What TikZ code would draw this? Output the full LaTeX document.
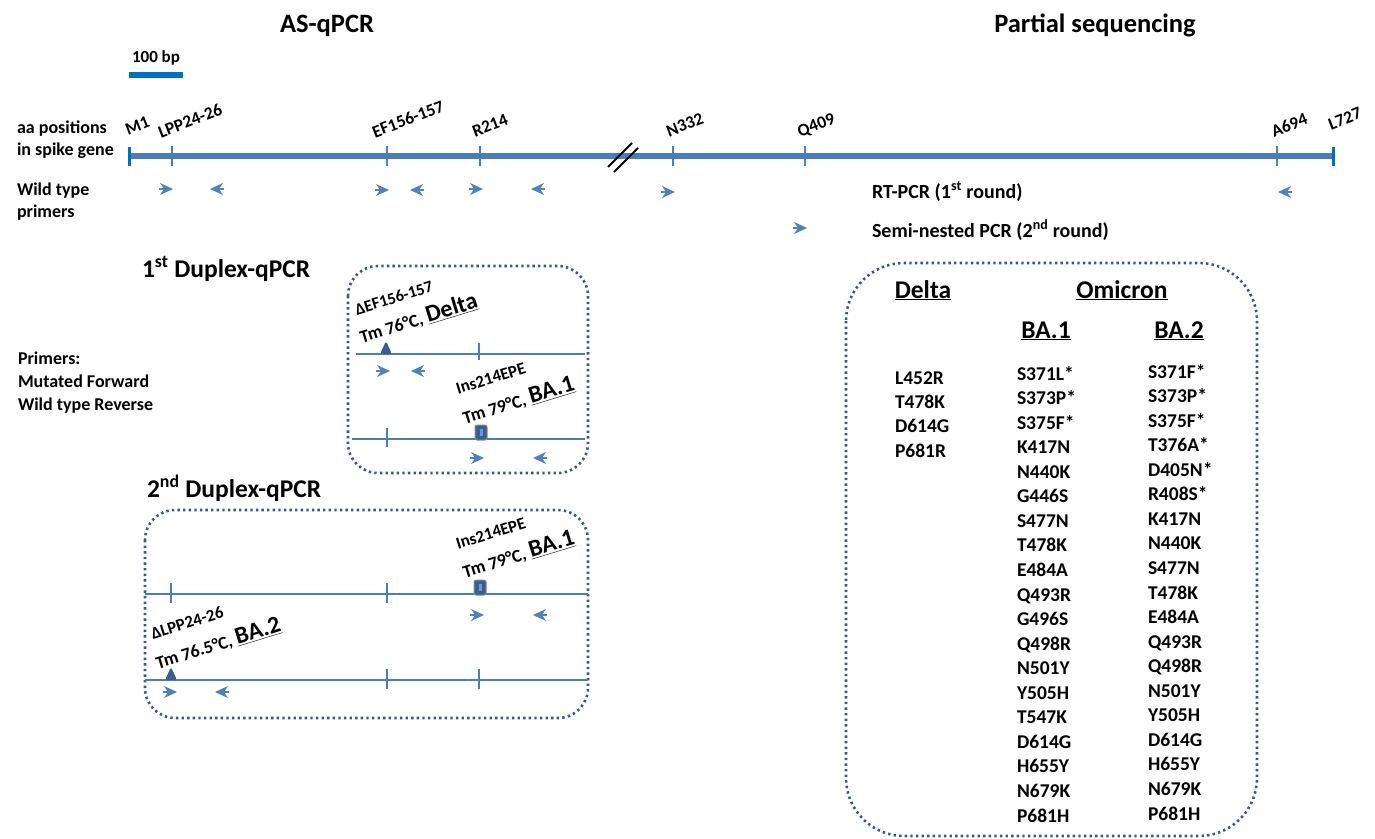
\documentclass[tikz,border=0pt]{standalone}
\usepackage{fontspec}
\setmainfont{Carlito}
\usetikzlibrary{calc}

\definecolor{geneBlue}{RGB}{74,126,187}
\definecolor{barBlue}{RGB}{0,112,192}
\definecolor{primerBlue}{RGB}{79,129,189}
\definecolor{markBlue}{RGB}{59,94,140}
\definecolor{dotBlue}{RGB}{52,88,148}

\tikzset{
	sideText/.style={font=\fontsize{18}{22}\selectfont\bfseries, anchor=base west},
	pcrText/.style={font=\fontsize{20}{24}\selectfont\bfseries, anchor=base west},
	titleText/.style={font=\fontsize{26.5}{30}\selectfont\bfseries, anchor=base},
	headText/.style={font=\fontsize{25.5}{29}\selectfont\bfseries, anchor=base west},
	listText/.style={font=\fontsize{19.5}{24}\selectfont\bfseries, anchor=base west},
	tickText/.style={font=\fontsize{17.5}{20}\selectfont\bfseries, anchor=base west, rotate=21},
	mutText/.style={font=\fontsize{18}{21}\selectfont\bfseries, anchor=base west, rotate=17},
	dotBox/.style={draw=dotBlue, line width=2.6pt, dash pattern=on 2.4pt off 3.2pt, rounded corners=30pt},
	thinGene/.style={draw=geneBlue, line width=2pt}
}

\begin{document}
\begin{tikzpicture}[x=1pt, y=-1pt, every node/.style={inner sep=0pt, outer sep=0pt}]
\useasboundingbox (0,0) rectangle (1375,838);

\newcommand\fwdPrimer[2]{
	\draw[primerBlue, line width=1.6pt] (#1-7,#2) -- (#1,#2);
	\fill[primerBlue] (#1+7,#2) -- (#1-6,#2-6) -- (#1-2,#2) -- (#1-6,#2+6) -- cycle;}
\newcommand\revPrimer[2]{
	\draw[primerBlue, line width=1.6pt] (#1+7,#2) -- (#1,#2);
	\fill[primerBlue] (#1-7,#2) -- (#1+6,#2-6) -- (#1+2,#2) -- (#1+6,#2+6) -- cycle;}
\newcommand\delMark[2]{\fill[markBlue, rounded corners=2.5pt] (#1-6,#2) -- (#1,#2-13) -- (#1+6,#2) -- cycle;}
\newcommand\insMark[2]{
	\filldraw[fill=markBlue, draw=markBlue!70, line width=1pt, rounded corners=2pt] (#1-6,#2-14) rectangle (#1+6,#2+1);
	\fill[geneBlue!80] (#1-1.5,#2-10) rectangle (#1+1.5,#2-3);}

% titles and scale
\node[titleText] (asTitle) at (327,32) {AS-qPCR};
\node[titleText] (seqTitle) at (1095,32) {Partial sequencing};
\node[font=\fontsize{17}{20}\selectfont\bfseries, anchor=base] (scaleText) at (156,62) {100 bp};
\fill[barBlue] (129,72) rectangle (183,78);

% spike gene
\node[sideText] (aaPos) at (17,133) {aa positions};
\node[sideText] (aaPos2) at (17,155) {in spike gene};
\draw[geneBlue, line width=5.5pt] (128,156) -- (1335,156);
\draw[barBlue, line width=3pt] (129.5,147) -- (129.5,166);
\draw[barBlue, line width=3pt] (1333.5,147) -- (1333.5,166);
\foreach \x in {172,387,480,673,805,1277}
	\draw[geneBlue, line width=1.8pt] (\x,146) -- (\x,166);
\draw[black, line width=2pt] (608,167) -- (632,143);
\draw[black, line width=2pt] (614,172) -- (638,148);

\node[tickText] (posM1) at (128,135) {M1};
\node[tickText] (posLPP) at (161,138) {LPP24-26};
\node[tickText] (posEF) at (375,138) {EF156-157};
\node[tickText] (posR) at (475,137) {R214};
\node[tickText] (posN) at (669,137) {N332};
\node[tickText] (posQ) at (800,137) {Q409};
\node[tickText] (posA) at (1274,137) {A694};
\node[tickText] (posL) at (1331,130) {L727};

% wild type primers
\node[sideText] (wtText) at (17,195) {Wild type};
\node[sideText] (wtText2) at (17,217) {primers};
\fwdPrimer{166}{189}
\revPrimer{217}{189}
\fwdPrimer{382}{190}
\revPrimer{417}{190}
\fwdPrimer{476}{189}
\revPrimer{538}{189}
\fwdPrimer{668}{192}
\revPrimer{1285}{192}
\node[pcrText] (rtText) at (872,198) {RT-PCR (1\textsuperscript{st} round)};
\fwdPrimer{800}{228}
\node[pcrText] (snText) at (872,237) {Semi-nested PCR (2\textsuperscript{nd} round)};

% primers legend
\node[sideText] (legA) at (18,364) {Primers:};
\node[sideText] (legB) at (18,387) {Mutated Forward};
\node[sideText] (legC) at (18,410) {Wild type Reverse};

% 1st duplex
\node[headText] (dupOne) at (142,277) {1\textsuperscript{st} Duplex-qPCR};
\draw[dotBox] (348,266) rectangle (588,473);
\draw[thinGene] (356,354) -- (585,354);
\draw[thinGene] (479,343) -- (479,360);
\delMark{386}{354}
\node[mutText, font=\fontsize{16.5}{19}\selectfont\bfseries] (delEF) at (357,315) {ΔEF156-157};
\node[mutText] (tmDelta) at (362,343) {Tm 76°C, {\fontsize{24}{27}\selectfont\underline{Delta}}};
\fwdPrimer{383}{371}
\revPrimer{418}{371}
\draw[thinGene] (352,439) -- (585,439);
\draw[thinGene] (387,428) -- (387,447);
\insMark{481}{439}
\node[mutText, font=\fontsize{17}{20}\selectfont\bfseries] (insOne) at (458,394) {Ins214EPE};
\node[mutText] (tmBAone) at (465,424) {Tm 79°C, {\fontsize{24}{27}\selectfont\underline{BA.1}}};
\fwdPrimer{477}{458}
\revPrimer{540}{458}

% 2nd duplex
\node[headText] (dupTwo) at (147,497) {2\textsuperscript{nd} Duplex-qPCR};
\draw[dotBox] (145,510) rectangle (588,718);
\draw[thinGene] (145,594) -- (588,594);
\foreach \x in {171,387}
	\draw[thinGene] (\x,583) -- (\x,603);
\insMark{480}{594}
\node[mutText, font=\fontsize{17}{20}\selectfont\bfseries] (insTwo) at (458,549) {Ins214EPE};
\node[mutText] (tmBAoneB) at (465,578) {Tm 79°C, {\fontsize{24}{27}\selectfont\underline{BA.1}}};
\fwdPrimer{477}{615}
\revPrimer{540}{615}
\draw[thinGene] (145,680) -- (588,680);
\foreach \x in {387,479}
	\draw[thinGene] (\x,669) -- (\x,689);
\delMark{171}{680}
\node[mutText, font=\fontsize{17}{20}\selectfont\bfseries] (delLPP) at (153,639) {ΔLPP24-26};
\node[mutText] (tmBAtwo) at (158,669) {Tm 76.5°C, {\fontsize{24}{27}\selectfont\underline{BA.2}}};
\fwdPrimer{170}{692}
\revPrimer{222}{692}

% mutations table
\draw[dotBox, rounded corners=58pt] (846,263) rectangle (1257,836);
\node[headText, anchor=base] (hDelta) at (923,298) {\underline{Delta}};
\node[headText, anchor=base] (hOmi) at (1122,298) {\underline{Omicron}};
\node[headText, anchor=base] (hBAone) at (1046,338) {\underline{BA.1}};
\node[headText, anchor=base] (hBAtwo) at (1179,338) {\underline{BA.2}};

\foreach \m [count=\i from 0] in {L452R,T478K,D614G,P681R}
	\node[listText] (delta-\i) at (895,384+24.4*\i) {\m};
\foreach \m [count=\i from 0] in {S371L*,S373P*,S375F*,K417N,N440K,G446S,S477N,T478K,E484A,Q493R,G496S,Q498R,N501Y,Y505H,T547K,D614G,H655Y,N679K,P681H}
	\node[listText] (baone-\i) at (1017,380+24.56*\i) {\m};
\foreach \m [count=\i from 0] in {S371F*,S373P*,S375F*,T376A*,D405N*,R408S*,K417N,N440K,S477N,T478K,E484A,Q493R,Q498R,N501Y,Y505H,D614G,H655Y,N679K,P681H}
	\node[listText] (batwo-\i) at (1148,378+24.56*\i) {\m};
\end{tikzpicture}
\end{document}
